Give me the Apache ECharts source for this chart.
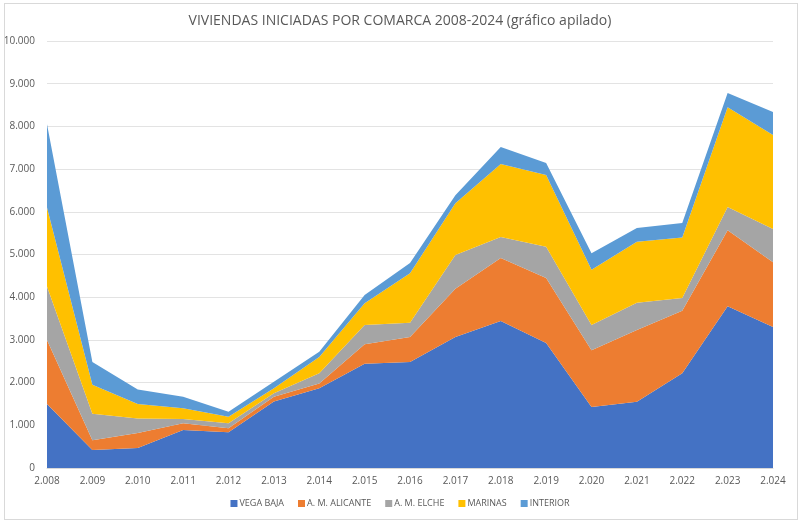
<!DOCTYPE html>
<html><head><meta charset="utf-8">
<script src="https://cdn.jsdelivr.net/npm/echarts@6/dist/echarts.min.js"></script>
<style>html,body{margin:0;padding:0;background:#fff}#c{position:absolute;left:0;top:0;width:800px;height:524px;}
#f{position:absolute;left:4px;top:3px;width:792px;height:515px;border:1px solid #d9d9d9;pointer-events:none}</style>
</head><body><div id="c"></div><div id="f"></div>
<script>
const years = [2008,2009,2010,2011,2012,2013,2014,2015,2016,2017,2018,2019,2020,2021,2022,2023,2024];
const vegaBaja   = [1500,420,470,890,840,1560,1870,2440,2480,3070,3440,2930,1430,1550,2220,3790,3300];
const amAlicante = [1500,230,350,160,90,110,110,460,590,1130,1480,1520,1330,1680,1460,1780,1520];
const amElche    = [1250,620,340,100,120,80,240,450,330,790,490,730,590,640,300,540,780];
const marinas    = [1850,680,340,250,150,120,380,510,1160,1210,1710,1680,1290,1430,1420,2340,2200];
const interior   = [1950,530,340,270,120,150,120,190,240,190,400,280,390,320,340,330,540];
const seriesNames = ['VEGA BAJA','A. M. ALICANTE','A. M. ELCHE','MARINAS','INTERIOR'];
const colors = ['#4472C4','#ED7D31','#A5A5A5','#FFC000','#5B9BD5'];
const fmt = v => String(v).replace(/\B(?=(\d{3})+(?!\d))/g, '.');
const chart = echarts.init(document.getElementById('c'));
const data = [vegaBaja, amAlicante, amElche, marinas, interior];
chart.setOption({
  animation: false,
  textStyle: {fontFamily: 'Open Sans'},
  title: {text: 'VIVIENDAS INICIADAS POR COMARCA 2008-2024 (gráfico apilado)', left: 'center', top: 9,
    textStyle: {fontFamily: 'Open Sans', fontSize: 14, fontWeight: 'normal', color: '#595959'}},
  legend: {bottom: 11, itemWidth: 7, itemHeight: 7, itemGap: 14, icon: 'rect',
    textStyle: {fontSize: 9, color: '#595959', padding: [0,0,0,-3]}, data: seriesNames},
  grid: {left: 47, right: 27, top: 41, bottom: 56},
  xAxis: {type: 'category', boundaryGap: false, data: years.map(fmt),
    axisLine: {lineStyle: {color: '#d9d9d9'}}, axisTick: {show: false},
    axisLabel: {color: '#595959', fontSize: 10, margin: 8}},
  yAxis: {type: 'value', min: 0, max: 10000, interval: 1000,
    axisLabel: {color: '#595959', fontSize: 10, formatter: fmt, margin: 12},
    splitLine: {lineStyle: {color: '#e3e3e3'}}, axisLine: {show: false}},
  series: data.map((d, i) => ({
    name: seriesNames[i], type: 'line', stack: 'total', data: d, showSymbol: false, symbol: 'none',
    lineStyle: {width: 0}, areaStyle: {color: colors[i], opacity: 1}, itemStyle: {color: colors[i]}
  }))
});
</script></body></html>
